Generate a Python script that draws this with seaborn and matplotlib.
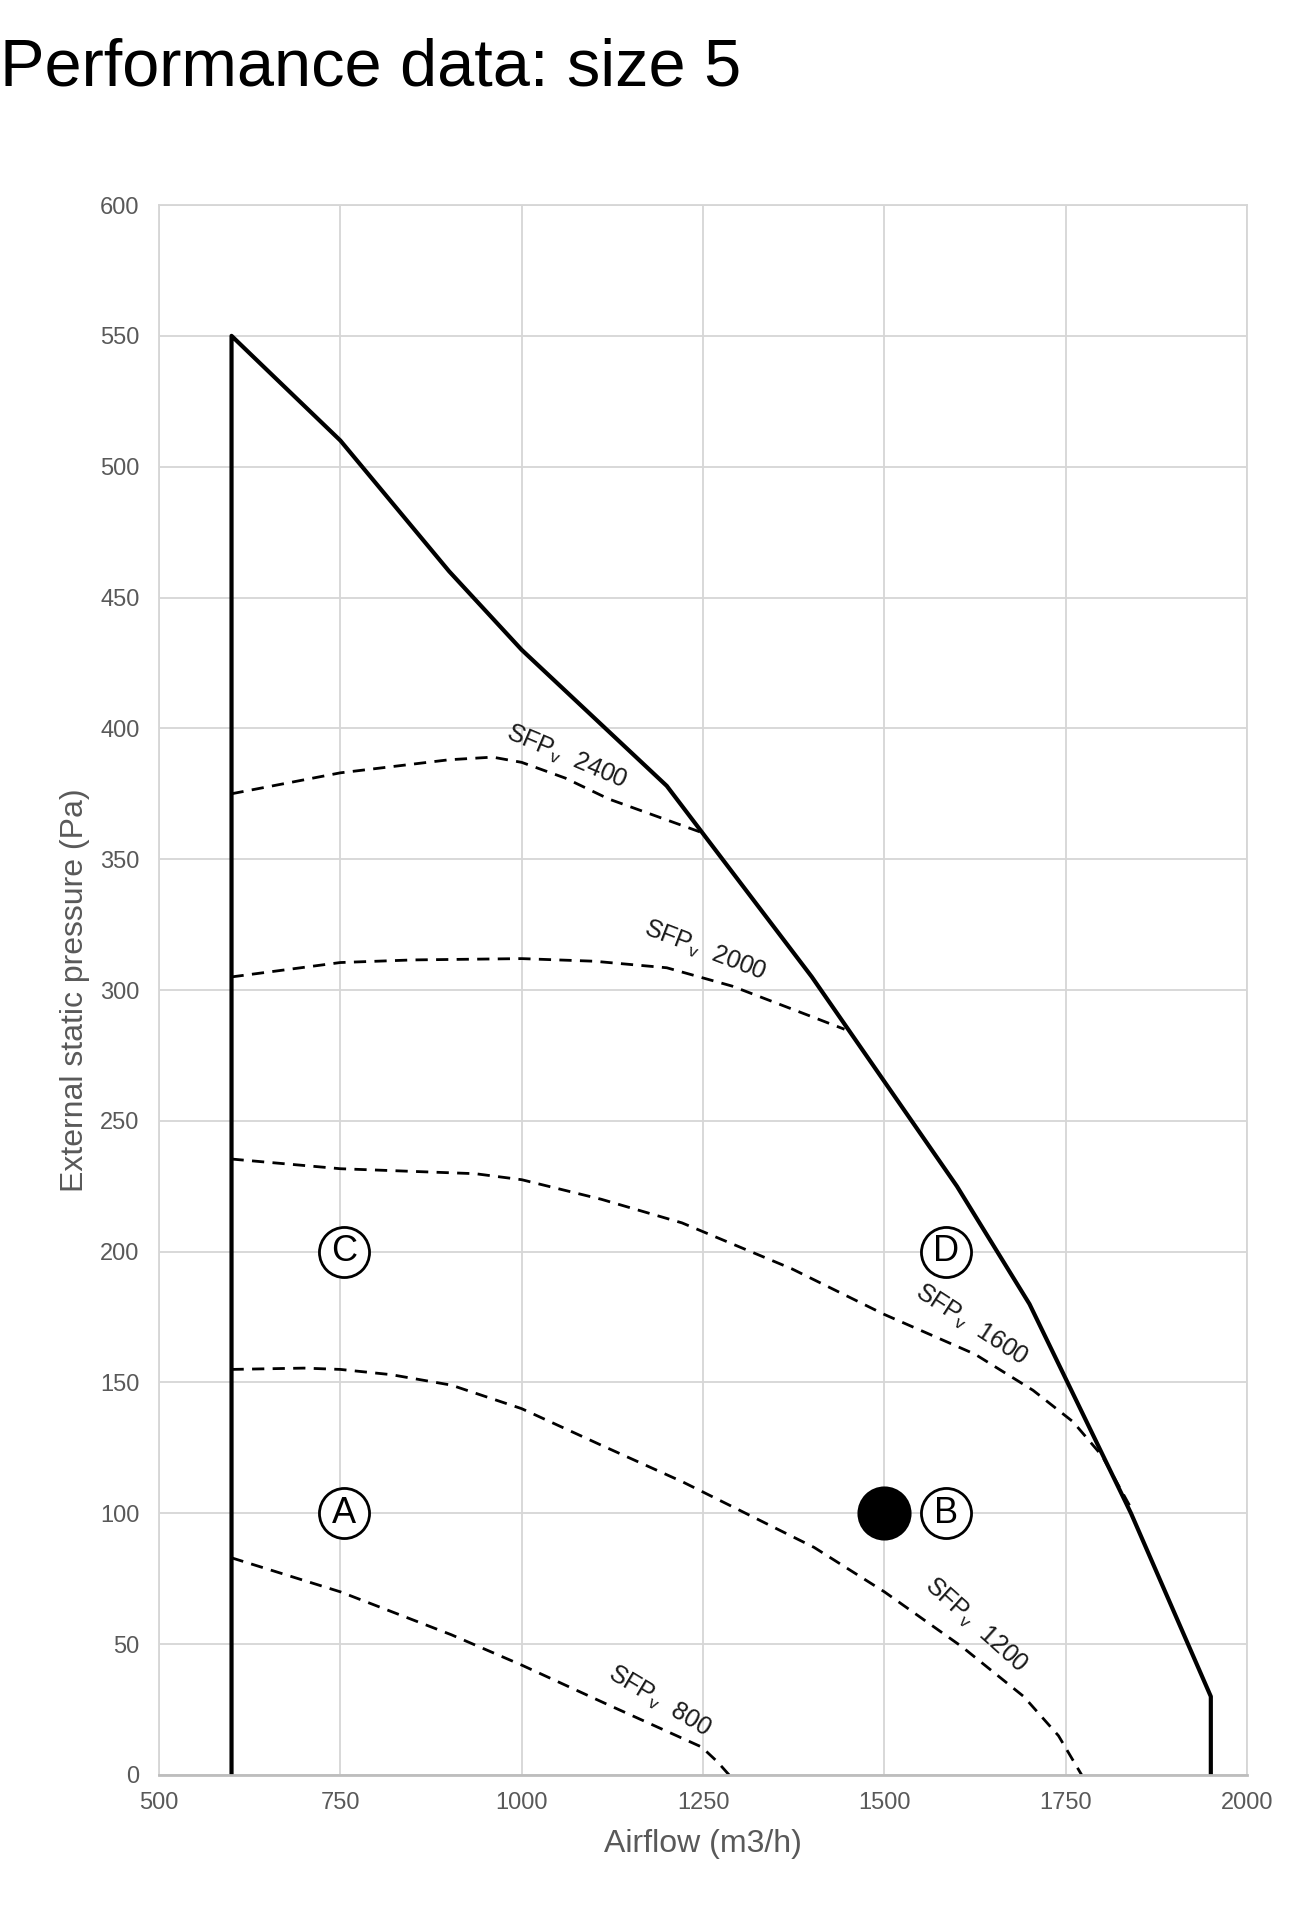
import matplotlib
matplotlib.use("Agg")
import matplotlib.pyplot as plt
import seaborn as sns

sns.set_theme(style="white")
plt.rcParams['font.family'] = ['Liberation Sans', 'DejaVu Sans']
plt.rcParams['mathtext.fontset'] = 'custom'
plt.rcParams['mathtext.rm'] = 'Liberation Sans'

# ---- data ----
x_ticks = [500, 750, 1000, 1250, 1500, 1750, 2000]
y_ticks = [0, 50, 100, 150, 200, 250, 300, 350, 400, 450, 500, 550, 600]

envelope_airflow = [600, 600, 750, 900, 1000, 1200, 1400, 1600, 1700, 1840, 1950, 1950]
envelope_pressure = [0, 550, 510, 460, 430, 378, 305, 225, 180, 100, 30, 0]

sfp2400_airflow = [600, 750, 900, 960, 1000, 1060, 1120, 1190, 1250]
sfp2400_pressure = [375, 383, 388, 389, 387, 381, 373, 366, 360]

sfp2000_airflow = [600, 750, 850, 1000, 1100, 1200, 1290, 1370, 1445]
sfp2000_pressure = [305, 310.5, 311.5, 312, 311, 308.5, 301.5, 293, 285]

sfp1600_airflow = [600, 750, 936, 1000, 1110, 1221, 1372, 1500, 1625, 1705, 1760, 1800, 1840]
sfp1600_pressure = [235.4, 231.7, 229.8, 227.5, 220, 211, 193.5, 176, 160.8, 147, 135, 122, 102]

sfp1200_airflow = [600, 700, 750, 820, 903, 1000, 1110, 1222, 1403, 1500, 1607, 1692, 1740, 1772]
sfp1200_pressure = [155, 155.5, 155, 153, 149, 140, 126, 112, 87, 70, 49, 30, 15, 0]

sfp800_airflow = [600, 750, 903, 1000, 1121, 1248, 1270, 1286]
sfp800_pressure = [83, 70, 53.6, 42, 26.6, 10.7, 5, 0]

sfp_names = ["2400", "2000", "1600", "1200", "800"]
sfp_label_x = [1062, 1252, 1620, 1626, 1190]
sfp_label_y = [389, 315, 172, 57, 28]
sfp_label_rot = [-23, -21, -33, -42, -31]

point_letters = ["A", "B", "C", "D"]
point_airflow = [755, 1585, 755, 1585]
point_pressure = [100, 100, 200, 200]

duty_airflow = [1500]
duty_pressure = [100]

# ---- figure ----
fig = plt.figure(figsize=(13, 19.09), dpi=100)
ax = fig.add_axes([0.1223, 0.0702, 0.837, 0.8224])

grid_c = "#d6d6d6"
ax.set_xlim(500, 2000)
ax.set_ylim(0, 600)
ax.set_xticks(x_ticks)
ax.set_yticks(y_ticks)
ax.grid(True, color=grid_c, linewidth=1.3)
ax.set_axisbelow(True)
for s in ["top", "right", "left"]:
    ax.spines[s].set_color(grid_c)
    ax.spines[s].set_linewidth(1.3)
ax.spines["bottom"].set_color("#bdbdbd")
ax.spines["bottom"].set_linewidth(2)
ax.tick_params(axis="both", length=0, labelsize=17, labelcolor="#595959")
ax.tick_params(axis="y", pad=14)
ax.tick_params(axis="x", pad=12)

dash = (0, (4.4, 3.0))
curves = [
    (sfp2400_airflow, sfp2400_pressure),
    (sfp2000_airflow, sfp2000_pressure),
    (sfp1600_airflow, sfp1600_pressure),
    (sfp1200_airflow, sfp1200_pressure),
    (sfp800_airflow, sfp800_pressure),
]
for xs, ys in curves:
    sns.lineplot(x=xs, y=ys, ax=ax, sort=False, estimator=None,
                 color="black", linewidth=2.0, linestyle=dash)

sns.lineplot(x=envelope_airflow, y=envelope_pressure, ax=ax, sort=False,
             estimator=None, color="black", linewidth=3.0)

for name, lx, ly, rot in zip(sfp_names, sfp_label_x, sfp_label_y, sfp_label_rot):
    ax.text(lx, ly, r"SFP$_\mathregular{v}$  " + name, rotation=rot,
            rotation_mode="anchor", ha="center", va="center",
            fontsize=18, color="#1a1a1a")

sns.scatterplot(x=point_airflow, y=point_pressure, ax=ax, s=1300,
                facecolor="white", edgecolor="black", linewidth=2.0, zorder=5)
for letter, px, py in zip(point_letters, point_airflow, point_pressure):
    ax.text(px, py, letter, ha="center", va="center", fontsize=26,
            color="black", zorder=6)

sns.scatterplot(x=duty_airflow, y=duty_pressure, ax=ax, s=1300,
                color="black", edgecolor="black", zorder=5)

ax.set_xlabel("Airflow (m3/h)", fontsize=23, color="#595959", labelpad=11)
ax.set_ylabel("External static pressure (Pa)", fontsize=23, color="#595959",
              labelpad=7)

fig.text(0.0, 0.955, "Performance data: size 5", fontsize=48,
         color="black", ha="left", va="baseline")

fig.savefig("out.png", dpi=100)
